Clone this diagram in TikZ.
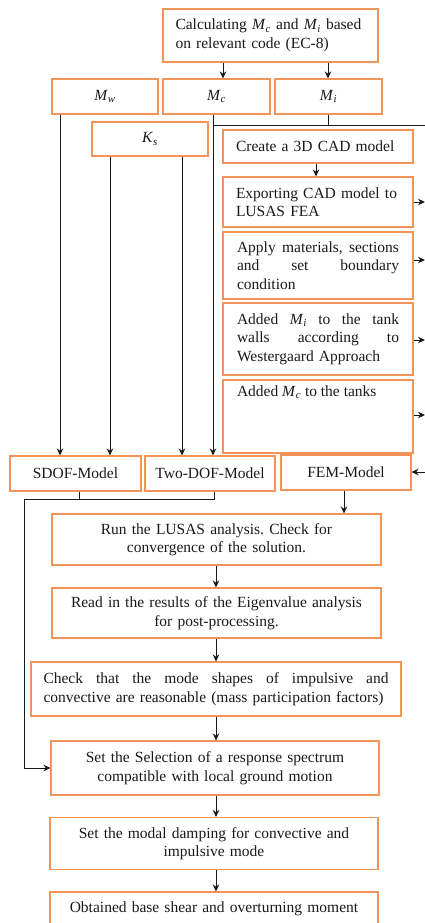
\documentclass[tikz,border=0pt]{standalone}
\usepackage{fontspec}
\setmainfont{Liberation Serif}
\usetikzlibrary{arrows.meta}
\definecolor{boxorange}{RGB}{242,148,85}
\newcommand{\Msym}[2]{\textit{#1}\textsubscript{\textit{#2}}}
\frenchspacing
\tikzset{
  box/.style={draw=boxorange, line width=1.1pt, inner ysep=0pt, align=center,
    font=\fontsize{15.5}{18.5}\selectfont, text=black!90},
  conn/.style={line width=1pt, black!90},
  arr/.style={conn, -{Stealth[length=7pt,width=6.5pt]}}
}
\begin{document}
\begin{tikzpicture}[x=1pt,y=-1pt]
\useasboundingbox (0,0) rectangle (425,923);
\clip (0,0) rectangle (425,923);
% top row
\node[box, minimum width=215, minimum height=53, text width=190, inner xsep=12.5, align=left] (top) at (270.5,35.5)
  {\mbox{Calculating \Msym{M}{c} and \Msym{M}{i} based}\\on relevant code (EC-8)};
\node[box, minimum width=106, minimum height=35] (Mw) at (105,96.5) {\Msym{M}{w}};
\node[box, minimum width=107, minimum height=35] (Mc) at (216.5,96.5) {\Msym{M}{c}};
\node[box, minimum width=107, minimum height=35] (Mi) at (328.5,96.5) {\Msym{M}{i}};
\node[box, minimum width=116, minimum height=34] (Ks) at (150,139) {\Msym{K}{s}};
% right column
\node[box, minimum width=190, minimum height=33, text width=164, inner xsep=13, align=left] (cad) at (318,146.5) {Create a 3D CAD model};
\node[box, minimum width=190, minimum height=50, text width=164, inner xsep=13, align=left] (exp) at (318,202) {\mbox{Exporting CAD model to}\\LUSAS FEA};
\node[box, minimum width=190, minimum height=67, text width=162, inner xsep=14, align=left] (app) at (318,265.5)
  {Apply\hfill materials,\hfill sections\\and\hfill set\hfill boundary\\condition};
\node[box, minimum width=190, minimum height=72, text width=162, inner xsep=14, align=left] (ami) at (318,339)
  {Added\hfill \Msym{M}{i}\hfill to\hfill the\hfill tank\\walls\hfill according\hfill to\\Westergaard Approach};
\node[box, minimum width=190, minimum height=73, inner xsep=14, align=left] (amc) at (318,416.5)
  {\parbox[t][62pt][t]{162pt}{Added \Msym{M}{c} to the tanks}};
% models
\node[box, minimum width=131, minimum height=35] (sdof) at (75.5,473.5) {SDOF-Model};
\node[box, minimum width=130, minimum height=35] (tdof) at (210,473.5) {Two-DOF-Model};
\node[box, minimum width=130, minimum height=35] (fem) at (346,472.5) {FEM-Model};
% main flow
\node[box, minimum width=329, minimum height=51, text width=315] (run) at (216.5,539.5) {Run the LUSAS analysis. Check for\\convergence of the solution.};
\node[box, minimum width=329, minimum height=50, text width=315] (read) at (216.5,613) {Read in the results of the Eigenvalue analysis\\for post-processing.};
\node[box, minimum width=370, minimum height=54, text width=345, inner xsep=12.5, align=left] (chk) at (216,689)
  {Check\hfill that\hfill the\hfill mode\hfill shapes\hfill of\hfill impulsive\hfill and\\\mbox{convective are reasonable (mass participation factors)}};
\node[box, minimum width=328, minimum height=54, text width=315] (sel) at (215,768) {Set the Selection of a response spectrum\\compatible with local ground motion};
\node[box, minimum width=328, minimum height=52, text width=315] (damp) at (214,843.5) {Set the modal damping for convective and\\impulsive mode};
\node[box, minimum width=328, minimum height=34, text width=315] (obt) at (214,909) {Obtained base shear and overturning moment};
% helper coordinates
\coordinate (xa) at (223,0);
\coordinate (xb) at (328,0);
\coordinate (xw) at (60,0);
\coordinate (xk1) at (110,0);
\coordinate (xk2) at (182,0);
\coordinate (xc) at (213,0);
\coordinate (busL) at (213,126);
\coordinate (busR) at (425,126);
\coordinate (xcad) at (316,0);
\coordinate (r1) at (425,202);
\coordinate (r2) at (425,260);
\coordinate (r3) at (425,340);
\coordinate (r4) at (425,415);
\coordinate (r5) at (425,472);
\coordinate (xs) at (79,0);
\coordinate (xt) at (214,0);
\coordinate (jy) at (0,499);
\coordinate (jl) at (24,499);
\coordinate (xf) at (344,0);
\coordinate (xm) at (216,0);
% connectors
\draw[arr] (top.south -| xa) -- (Mc.north -| xa);
\draw[arr] (top.south -| xb) -- (Mi.north -| xb);
\draw[arr] (Mw.south -| xw) -- (sdof.north -| xw);
\draw[arr] (Ks.south -| xk1) -- (sdof.north -| xk1);
\draw[arr] (Ks.south -| xk2) -- (tdof.north -| xk2);
\draw[arr] (Mc.south -| xc) -- (tdof.north -| xc);
\draw[conn] (Mi.south -| xb) -- (busR -| xb);
\draw[conn] (busL) -- (busR);
\draw[arr] (cad.south -| xcad) -- (exp.north -| xcad);
\draw[arr] (exp.east |- r1) -- (r1);
\draw[arr] (app.east |- r2) -- (r2);
\draw[arr] (ami.east |- r3) -- (r3);
\draw[arr] (amc.east |- r4) -- (r4);
\draw[arr] (r5) -- (fem.east |- r5);
\draw[conn] (sdof.south -| xs) -- (jy -| xs);
\draw[conn] (tdof.south -| xt) -- (jy -| xt) -- (jl);
\draw[arr] (jl) -- (sel.west -| jl) -- (sel.west);
\draw[arr] (fem.south -| xf) -- (run.north -| xf);
\draw[arr] (run.south -| xm) -- (read.north -| xm);
\draw[arr] (read.south -| xm) -- (chk.north -| xm);
\draw[arr] (chk.south -| xm) -- (sel.north -| xm);
\draw[arr] (sel.south -| xm) -- (damp.north -| xm);
\draw[arr] (damp.south -| xm) -- (obt.north -| xm);
\end{tikzpicture}
\end{document}
